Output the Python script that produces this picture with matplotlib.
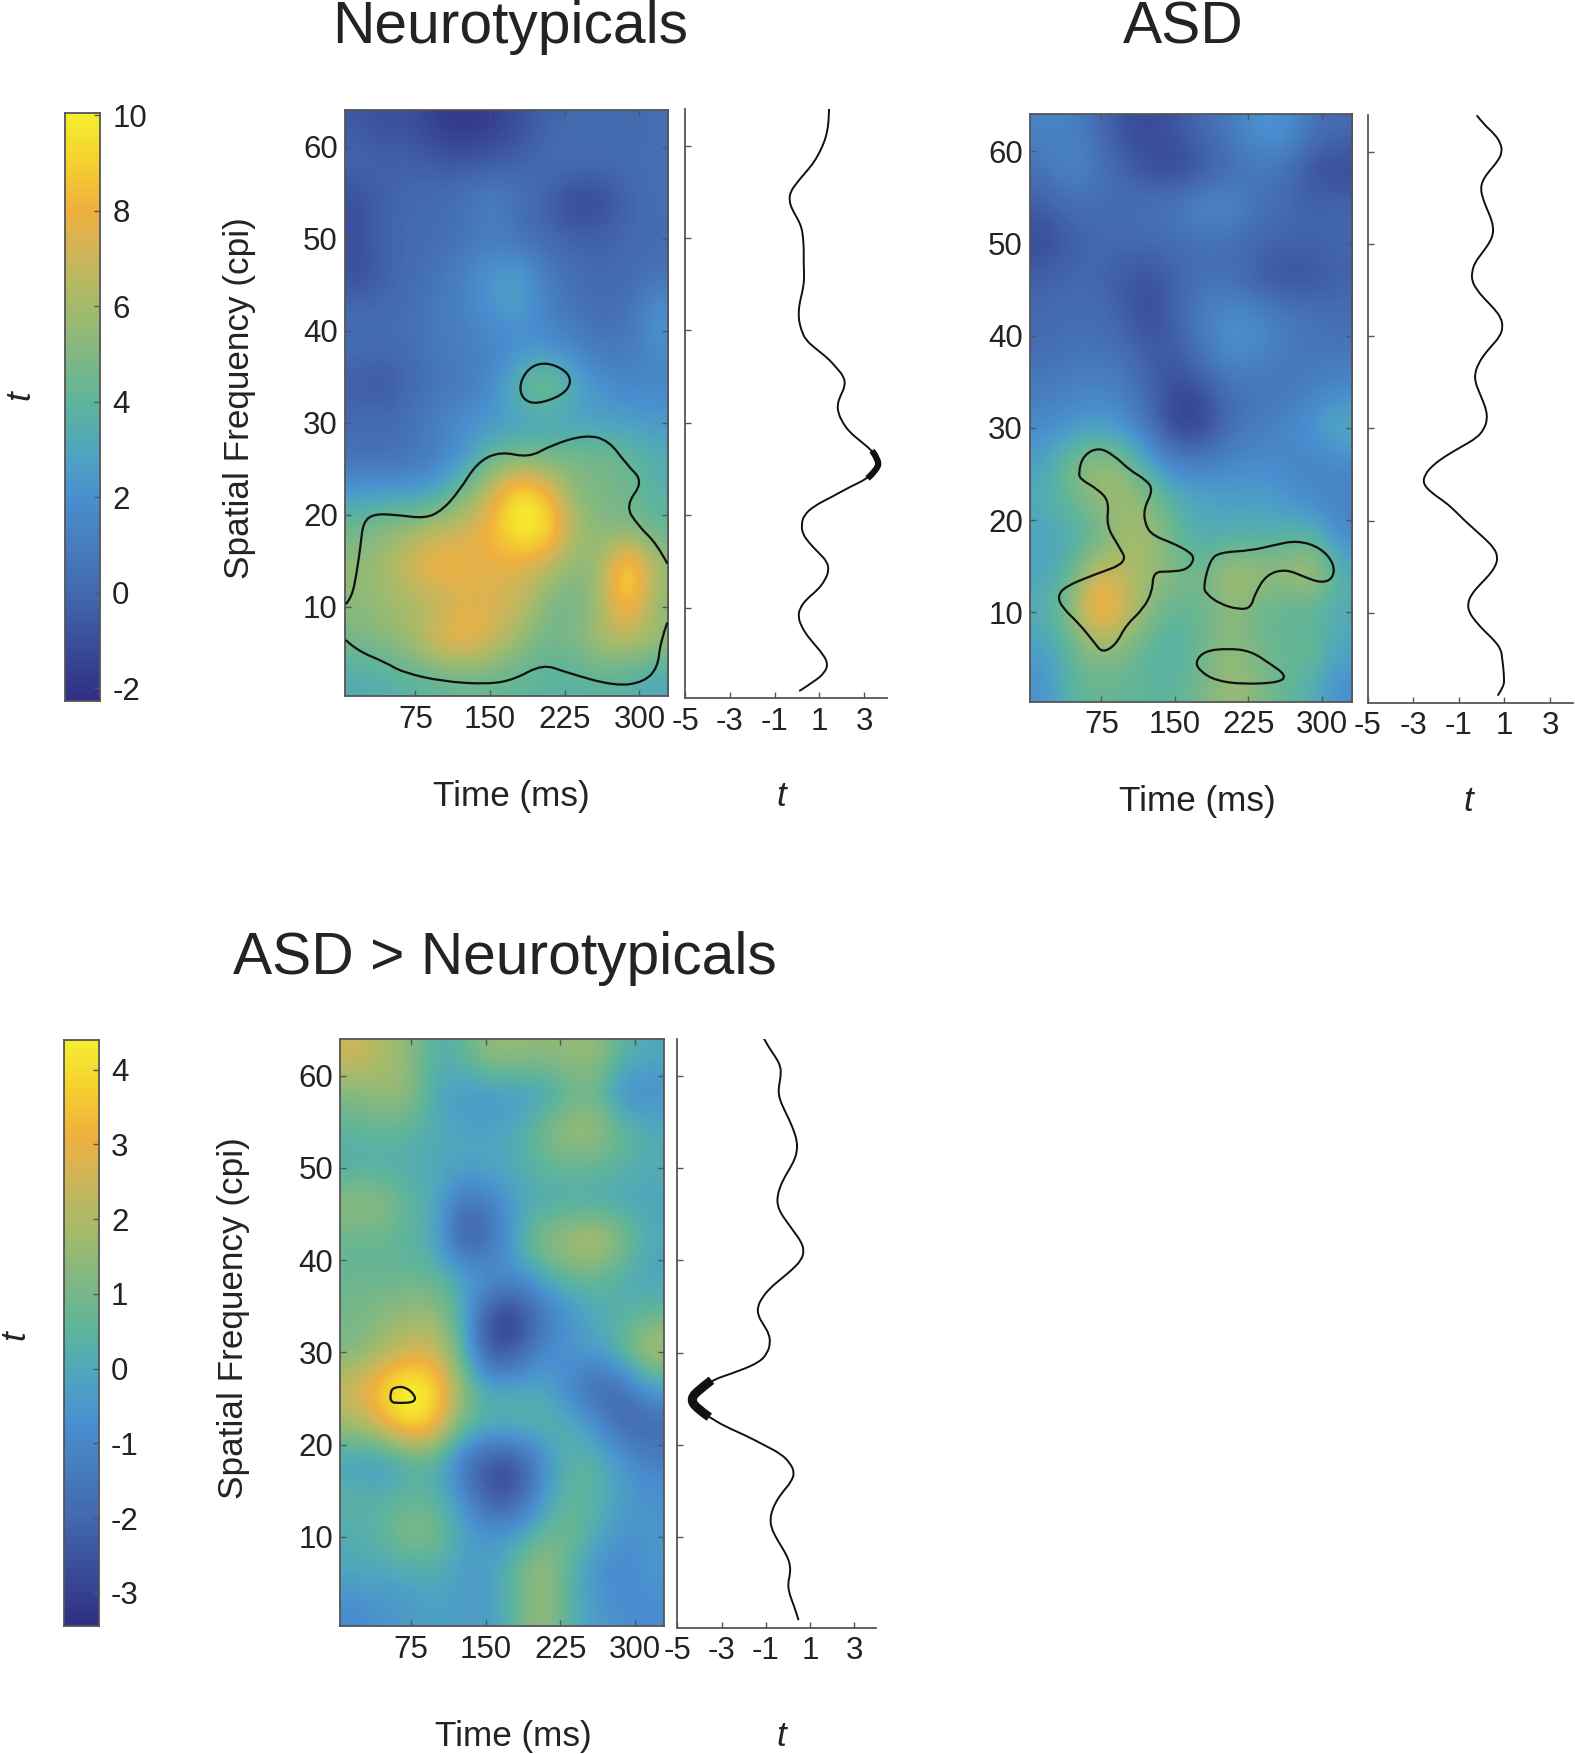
import numpy as np
import matplotlib
matplotlib.use("Agg")
import matplotlib.pyplot as plt
from matplotlib.colors import LinearSegmentedColormap
from matplotlib.path import Path
from matplotlib.patches import PathPatch

plt.rcParams['font.family'] = ['Liberation Sans', 'DejaVu Sans']
plt.rcParams['axes.unicode_minus'] = False

# ---------- data ----------
sf_levels = list(range(64, 0, -1))
time_ticks = [75, 150, 225, 300]
sf_ticks = [10, 20, 30, 40, 50, 60]
t_ticks = [-5, -3, -1, 1, 3]
cbar_ticks_top = [-2, 0, 2, 4, 6, 8, 10]
cbar_ticks_bot = [-3, -2, -1, 0, 1, 2, 3, 4]

# rows: SF 62, 58 ... 2 ; columns: time 18, 45, 72 ... 315 ms
heat_nt = [
 [-0.6,-1.0,-0.9,-1.8,-2.0,-1.7,-0.9,-0.2,0.1,0.1,0.0,0.3],
 [0.0,-0.3,-0.2,-0.5,-0.6,-0.4,-0.2,0.2,0.3,0.2,0.2,0.4],
 [-1.1,-0.2,0.0,0.2,0.7,1.5,0.5,-0.3,-1.5,-1.3,-0.2,0.3],
 [-0.9,-0.1,0.1,0.2,0.5,0.8,0.2,0.0,-0.3,-0.3,0.1,0.2],
 [-1.1,-0.4,0.2,0.7,1.4,2.6,2.9,1.0,0.3,0.0,0.1,0.4],
 [0.2,0.2,0.4,0.8,1.4,2.2,2.7,1.2,0.5,0.2,0.4,2.2],
 [0.3,0.1,0.4,0.9,1.1,1.3,1.7,1.9,1.4,0.7,0.8,1.8],
 [-0.5,-0.9,0.1,0.5,0.9,1.8,4.4,5.6,3.3,1.9,1.5,1.4],
 [0.2,0.2,0.6,1.4,1.9,2.3,2.5,2.7,2.6,2.7,2.6,2.4],
 [0.4,0.3,0.4,1.0,2.5,4.3,4.7,4.7,4.8,4.8,4.3,3.4],
 [2.5,2.8,2.5,3.3,5.0,7.5,10.5,8.5,5.2,4.8,4.5,3.6],
 [4.7,5.5,6.0,7.0,7.3,8.5,10.5,10.0,6.5,5.0,5.0,4.2],
 [5.5,6.0,7.5,8.5,7.8,7.6,7.3,6.5,5.0,6.0,10.8,6.0],
 [5.3,5.8,6.0,6.3,7.4,7.4,7.0,5.0,4.3,6.0,9.3,5.3],
 [4.7,5.3,6.0,8.0,8.5,7.2,5.5,4.4,5.0,6.3,6.5,5.8],
 [3.3,3.5,3.8,4.0,4.2,4.2,4.0,3.8,3.7,3.9,3.7,3.0],
]
heat_asd = [
 [1.4,1.3,0.3,-1.0,-1.2,-0.6,0.2,1.0,2.2,2.2,0.6,0.1],
 [0.4,1.8,0.7,-0.2,-1.1,-1.4,-0.9,0.2,0.7,0.4,-1.1,-1.3],
 [-0.4,0.2,0.2,0.3,0.6,1.0,2.0,1.7,0.5,0.1,-0.2,0.0],
 [-1.3,-0.5,0.0,0.0,0.1,0.2,0.3,0.2,0.0,-0.2,-0.2,-0.1],
 [-0.2,0.0,0.0,-0.7,-1.0,-0.1,0.4,0.4,-0.7,-1.1,-0.9,-0.2],
 [0.0,0.2,0.2,-0.4,-1.2,-0.1,1.3,2.0,1.8,1.0,0.7,0.2],
 [0.3,0.6,0.6,0.3,-0.6,-0.5,0.8,2.0,1.6,0.8,0.6,0.7],
 [0.9,1.2,1.5,1.0,-0.2,-1.3,-0.8,0.4,0.5,0.6,1.2,1.6],
 [1.7,2.2,2.6,2.0,0.3,-1.9,-1.5,0.3,1.0,1.6,2.4,3.6],
 [2.8,4.8,6.0,5.2,2.8,1.2,1.2,1.6,1.8,1.5,1.2,1.6],
 [3.4,4.3,5.6,6.0,5.0,3.6,3.0,2.9,2.7,2.3,1.6,1.2],
 [2.8,3.2,3.8,6.0,6.0,4.0,3.2,3.3,3.6,3.7,4.0,1.8],
 [3.0,3.8,7.5,6.4,5.8,5.0,4.6,6.6,5.8,5.8,6.8,3.5],
 [3.5,5.3,9.5,7.5,5.0,4.0,4.4,5.4,4.3,3.9,3.7,3.3],
 [2.7,3.9,5.6,5.0,3.8,3.4,4.6,5.5,4.6,4.3,4.6,3.0],
 [2.0,3.9,4.3,4.1,3.9,4.0,4.8,6.0,5.0,4.1,3.5,1.8],
]
heat_diff = [
 [2.6,2.0,1.5,0.2,0.5,1.6,1.6,1.4,1.6,1.6,0.4,0.0],
 [1.2,1.6,1.6,0.0,-0.5,-0.6,-0.5,-0.4,0.5,0.8,-1.1,-0.8],
 [0.5,0.6,0.5,0.1,-0.2,-0.2,0.0,1.0,1.9,1.8,0.8,0.1],
 [0.1,0.2,0.1,0.0,0.0,0.0,0.1,0.6,0.7,0.6,0.3,0.1],
 [1.6,1.6,0.6,0.2,-1.8,-1.5,-0.3,0.0,0.0,0.0,-0.1,-0.1],
 [0.6,0.7,0.4,0.1,-2.6,-2.0,-0.1,1.6,2.0,2.6,1.3,0.0],
 [0.7,0.7,0.7,0.6,0.0,-0.5,-0.8,0.0,0.7,0.7,0.1,-0.2],
 [1.0,1.3,1.6,1.7,0.2,-2.7,-3.2,-1.7,-0.7,0.1,0.3,0.6],
 [1.0,1.7,2.4,2.5,0.6,-2.9,-2.6,-1.0,-0.5,-0.3,0.8,2.4],
 [2.6,3.9,4.9,4.3,1.6,-0.2,0.0,0.0,-1.1,-2.2,-1.9,-0.3],
 [1.9,2.9,4.5,3.8,1.0,0.5,0.6,0.5,0.2,-0.8,-2.2,-2.1],
 [-0.4,-0.7,0.0,0.3,-1.6,-2.8,-2.8,-1.0,0.5,0.4,-0.5,-1.3],
 [0.5,0.3,0.6,0.5,-0.7,-2.5,-2.6,-0.6,0.7,0.4,-0.4,-0.6],
 [0.1,0.5,1.4,1.2,0.0,-0.6,-0.3,0.7,1.0,0.1,-0.7,-0.6],
 [0.0,0.0,0.0,0.2,-0.4,-0.4,0.7,1.9,0.4,-0.8,-1.0,-0.5],
 [-0.9,-0.7,-0.5,-0.2,-0.4,-0.4,0.5,1.8,0.3,-0.4,-0.8,-0.8],
]

# marginal t value at SF 64, 63 ... 1
marg_nt = [1.43,1.42,1.38,1.3,1.15,.95,.7,.35,.0,-.3,-.35,-.2,.05,.22,.27,.3,.3,.3,.32,.3,.22,.12,.07,.09,.2,.38,.85,1.38,1.75,2.1,2.15,1.95,1.8,1.85,2.05,2.35,2.85,3.35,3.65,3.6,3.15,2.3,1.55,.75,.3,.2,.25,.55,.95,1.35,1.42,1.25,.95,.45,.13,.05,.2,.45,.8,1.15,1.38,1.25,.75,.1]
marg_asd = [-.22,.1,.55,.83,.9,.7,.35,.05,-.05,.05,.2,.38,.5,.5,.3,.0,-.3,-.43,-.43,-.2,.15,.55,.85,.93,.8,.45,.1,-.15,-.3,-.28,-.12,.05,.2,.24,.12,-.2,-.9,-1.6,-2.15,-2.5,-2.58,-2.2,-1.6,-1.15,-.75,-.3,.15,.55,.71,.6,.3,-.1,-.45,-.62,-.55,-.25,.12,.55,.85,.9,.95,.98,.98,.7]
marg_diff = [-1.08,-.85,-.55,-.33,-.32,-.4,-.43,-.3,-.1,.1,.27,.4,.42,.32,.1,-.15,-.35,-.47,-.48,-.3,0,.3,.6,.73,.6,.2,-.3,-.8,-1.15,-1.37,-1.35,-1.1,-.85,-.8,-.92,-1.25,-2.2,-3.45,-4.0,-4.4,-4.15,-3.55,-2.85,-1.9,-1.1,-.3,.1,.3,.15,-.2,-.5,-.7,-.8,-.75,-.55,-.3,-.05,.1,.1,0,.05,.2,.35,.48]

# significance contours, (time list, SF list)
nt_c1_time = [5,11,16,20,22.5,33,56,85,102,119,137,160,189,212,246,269,287,304,286,298,318,328]
nt_c1_sf = [10.3,11,13.7,16.8,19.2,20.1,20,19.6,20.5,22.6,25.7,26.9,26.2,27.6,28.7,28.1,25.5,23.6,21,18.9,16.8,14.7]
nt_c2_time = [5,15.6,44.4,62,102,148,174,203,226,275,304,318.5,321,328]
nt_c2_sf = [6.4,5.3,4,2.9,1.9,1.6,2.1,3.8,2.9,1.4,1.8,3.4,6.2,8.3]
nt_c3_time = [179,188.7,206,226,232,223,197,183]
nt_c3_sf = [34.1,36,36.6,35.7,34.4,33,32,32.5]
asd_c1_time = [51.5,56.3,72.2,88.1,104,120,128,118,120,128,148,166,170,162,144,128,127,118,100,90,76,68,52,36,30,38,68,102,92,80,83,72,54]
asd_c1_sf = [25.1,27,27.9,27,25.4,24.4,23.3,21.2,19.4,18.3,17.5,16.5,15.7,14.6,14.4,14.4,12.3,10.4,8.6,6.5,5.6,6.7,8.8,10.4,11.7,12.8,14.1,15.4,17.3,19.4,22,23.3,24.4]
asd_c2_time = [179,186,196,228,251.5,275,299,313,311,299,283,263,243.5,231.6,227.6,215.6,196,182]
asd_c2_sf = [12.8,15.7,16.5,16.7,17.3,17.8,17,15.2,13.6,13.2,13.8,14.7,14.1,12,10.5,10.3,10.9,12]
asd_c3_time = [170.6,180,204,227.6,247.5,263.4,257.5,219.6,191.7,176]
asd_c3_sf = [4.6,5.8,6.1,5.8,4.4,3.2,2.4,2.2,2.6,3.6]
diff_c1_time = [54.4,57.3,68.7,79,79,63,54.4]
diff_c1_sf = [25.65,26.2,26.3,25.4,24.6,24.5,24.6]

# ---------- style ----------
W, H = 1407.0, 1567.0
TXT = '#232323'
SP = '#555555'
TICK = 22.5
LAB = 25.3
cmap = LinearSegmentedColormap.from_list('parula_like', [
    (0.0, '#2f2f85'), (.184, '#4469b0'), (.346, '#4a90d0'), (.427, '#4fa6bf'),
    (.509, '#5fb59a'), (.671, '#a3bb6b'), (.77, '#d2b557'), (.834, '#efb03e'),
    (.915, '#f5cf31'), (1.0, '#f6ef2e')])

fig = plt.figure(figsize=(15.75, 17.54), dpi=100, facecolor='white')

def box(x0, y0, x1, y1):
    return fig.add_axes([x0/W, 1-y1/H, (x1-x0)/W, (y1-y0)/H])

def label(x, y, s, size=LAB, **kw):
    fig.text(x/W, 1-y/H, s, fontsize=size, color=TXT, ha='center', va='center', **kw)

def smooth_line(ax, tx, sy, closed, lw=1.6):
    """Draws read vertices as a smooth quadratic Bezier path."""
    p = np.column_stack([tx, sy]).astype(float)
    if closed:
        start = (p[-1] + p[0]) / 2
        verts, codes = [start], [Path.MOVETO]
        for i in range(len(p)):
            verts += [p[i], (p[i] + p[(i+1) % len(p)]) / 2]
            codes += [Path.CURVE3, Path.CURVE3]
    else:
        verts, codes = [p[0]], [Path.MOVETO]
        for i in range(1, len(p)-1):
            end = (p[i] + p[i+1]) / 2 if i < len(p)-2 else p[-1]
            verts += [p[i], end]
            codes += [Path.CURVE3, Path.CURVE3]
    ax.add_patch(PathPatch(Path(verts, codes), fc='none', ec='#111111', lw=lw, zorder=5,
                           capstyle='butt', joinstyle='round'))

def spines(ax):
    for s in ax.spines.values():
        s.set_color(SP); s.set_linewidth(1.3)

def panel(hbox, mbox, grid, vmin, vmax, contours, marg, thick, thick_lw=5, xlim=(4, 329)):
    ax = box(*hbox)
    ax.imshow(np.array(grid), cmap=cmap, vmin=vmin, vmax=vmax, aspect='auto',
              extent=(xlim[0], xlim[1], 0.3, 64), origin='upper',
              interpolation='bicubic', interpolation_stage='data')
    ax.set_xlim(*xlim); ax.set_ylim(0.3, 64)
    ax.set_xticks(time_ticks); ax.set_yticks(sf_ticks)
    ax.tick_params(direction='in', top=True, right=True, length=4.5, width=1, color=SP,
                   labelsize=TICK, labelcolor=TXT)
    ax.tick_params(axis='x', pad=6); ax.tick_params(axis='y', pad=5)
    spines(ax)
    for tx, sy, closed in contours:
        smooth_line(ax, tx, sy, closed)

    m = box(*mbox)
    sf = np.array(sf_levels); v = np.array(marg)
    smooth_line(m, v, sf, False, lw=1.4)
    mask = (sf >= thick[0]) & (sf <= thick[1])
    if mask.any():
        smooth_line(m, v[mask], sf[mask], False, lw=thick_lw)
    m.set_xlim(-5, 4); m.set_ylim(0.2, 64)
    m.set_xticks(t_ticks); m.set_yticks(sf_ticks); m.set_yticklabels([])
    m.tick_params(direction='in', length=4.5, width=1, color=SP, labelsize=TICK, labelcolor=TXT)
    m.tick_params(axis='x', pad=6)
    m.spines['top'].set_visible(False); m.spines['right'].set_visible(False)
    for s in ('left', 'bottom'):
        m.spines[s].set_color(SP); m.spines[s].set_linewidth(1.3)

def colorbar(b, vmin, vmax, ticks):
    ax = box(*b)
    ax.imshow(np.linspace(vmax, vmin, 256)[:, None], cmap=cmap, vmin=vmin, vmax=vmax,
              aspect='auto', extent=(0, 1, vmin, vmax))
    ax.set_xticks([]); ax.yaxis.tick_right(); ax.set_yticks(ticks)
    ax.tick_params(axis='y', direction='in', length=4, width=1, color=SP, pad=9,
                   labelsize=TICK, labelcolor=TXT)
    spines(ax)

panel((308, 98, 597, 622), (612, 97, 792, 624), heat_nt, -2.26, 10.05,
      [(nt_c1_time, nt_c1_sf, False), (nt_c2_time, nt_c2_sf, False), (nt_c3_time, nt_c3_sf, True)],
      marg_nt, (24, 27), thick_lw=4.5)
panel((920, 102, 1208, 627), (1222, 103, 1405, 628), heat_asd, -2.26, 10.05,
      [(asd_c1_time, asd_c1_sf, True), (asd_c2_time, asd_c2_sf, True), (asd_c3_time, asd_c3_sf, True)],
      marg_asd, (0, 0), xlim=(2, 331))
panel((304, 928, 593, 1453), (605, 928, 783, 1454), heat_diff, -3.45, 4.4,
      [(diff_c1_time, diff_c1_sf, True)], marg_diff, (23, 27), thick_lw=6.5)

colorbar((58, 101, 89, 626), -2.26, 10.05, cbar_ticks_top)
colorbar((57, 929, 88, 1453), -3.45, 4.4, cbar_ticks_bot)

label(456, 25, 'Neurotypicals', size=42.3)
label(1057, 25, 'ASD', size=42.3)
label(451, 856, 'ASD > Neurotypicals', size=42.3)

label(214, 356, 'Spatial Frequency (cpi)', rotation=90)
label(209, 1178, 'Spatial Frequency (cpi)', rotation=90)
label(18, 353, 't', rotation=90, style='italic')
label(13, 1193, 't', rotation=90, style='italic')
label(457, 712, 'Time (ms)')
label(1070, 716, 'Time (ms)')
label(459, 1551, 'Time (ms)')
label(698, 712, 't', style='italic')
label(1312, 716, 't', style='italic')
label(698, 1551, 't', style='italic')

fig.savefig('out.png', dpi=100, facecolor='white')
